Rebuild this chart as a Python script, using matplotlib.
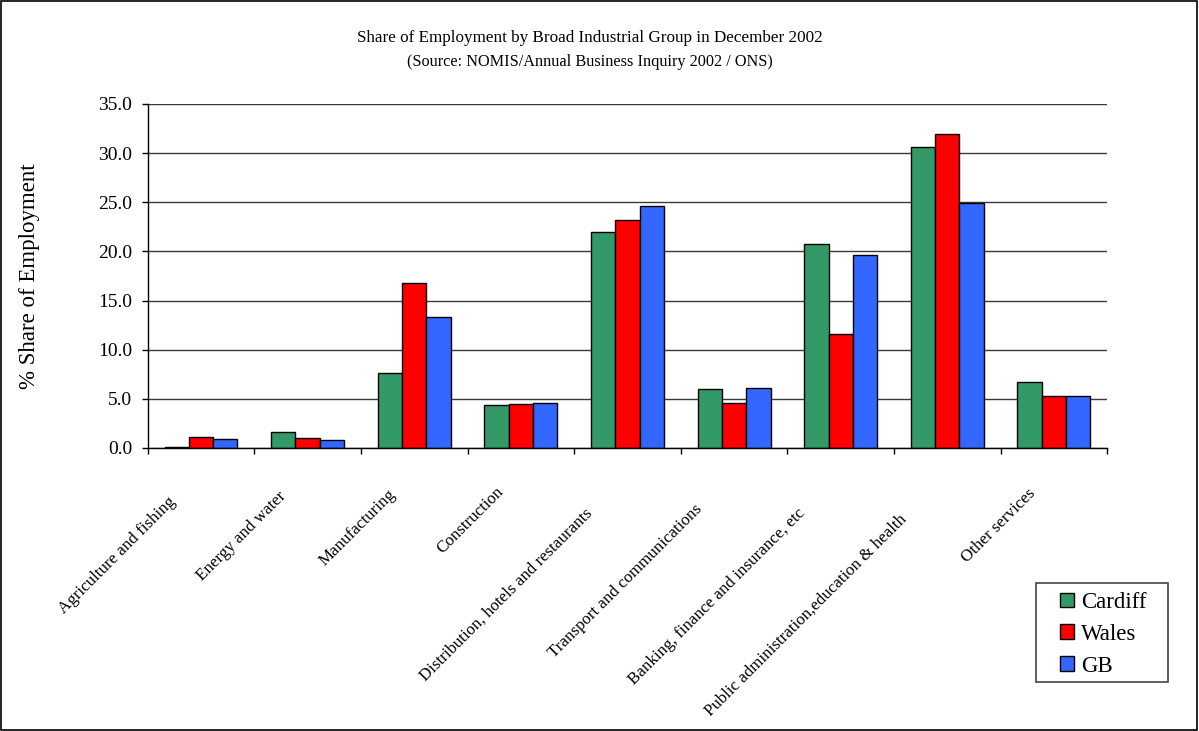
import numpy as np
import matplotlib.pyplot as plt
from matplotlib.patches import Rectangle
from matplotlib.transforms import ScaledTranslation
from matplotlib.textpath import TextPath
from matplotlib.font_manager import FontProperties

plt.rcParams['font.family'] = ['Liberation Serif', 'DejaVu Serif']

categories = ["Agriculture and fishing", "Energy and water", "Manufacturing",
              "Construction", "Distribution, hotels and restaurants",
              "Transport and communications", "Banking, finance and insurance, etc",
              "Public administration,education & health", "Other services"]
cardiff = [0.14, 1.62, 7.6, 4.36, 22.0, 6.03, 20.8, 30.6, 6.68]
wales = [1.08, 1.01, 16.8, 4.43, 23.2, 4.58, 11.56, 31.9, 5.25]
gb = [0.95, 0.78, 13.37, 4.53, 24.6, 6.1, 19.6, 24.9, 5.25]
series_names = ["Cardiff", "Wales", "GB"]
colors = ["#339966", "#FF0000", "#3366FF"]

W, H, DPI = 1199, 731, 100
fig = plt.figure(figsize=(W / DPI, H / DPI), dpi=DPI)
ax = fig.add_axes([147.7 / W, 1 - 448 / H, 959.5 / W, 344 / H])

x = np.arange(len(categories))
w = 0.228
for i, (vals, name, c) in enumerate(zip([cardiff, wales, gb], series_names, colors)):
    ax.bar(x + (i - 1) * w, vals, w, color=c, edgecolor="black", linewidth=1,
           label=name, zorder=3)

ax.set_xlim(-0.5, len(categories) - 0.5)
ax.set_ylim(0, 35)
ax.set_yticks(np.arange(0, 36, 5))
ax.set_yticklabels([f"{v:.1f}" for v in np.arange(0, 36, 5)], fontsize=14)
ax.yaxis.grid(True, color="#3a3a3a", linewidth=1, zorder=0)
ax.set_axisbelow(True)

# ticks between categories, labels centred on categories
lab_fs = 12.2
ax.set_xticks(np.arange(-0.5, len(categories), 1))
ax.set_xticklabels([])
ax.set_xticks(x, minor=True)
ax.set_xticklabels(categories, minor=True, rotation=45, ha="right", va="top",
                   rotation_mode="anchor", fontsize=lab_fs)
ax.tick_params(axis="x", which="minor", length=0, pad=0)
ax.tick_params(axis="x", which="major", length=4, width=1, color="black")
ax.tick_params(axis="y", length=4, width=1, color="black", pad=7)
# longer labels sit further down-left, as in the original
fp = FontProperties(family="Liberation Serif")
for lab in ax.get_xticklabels(minor=True):
    L = TextPath((0, 0), lab.get_text(), size=lab_fs, prop=fp).get_extents().width * DPI / 72
    dx = -15 - 0.12 * L
    dy = -(24 + 0.14 * L)
    lab.set_transform(lab.get_transform() + ScaledTranslation(dx / DPI, dy / DPI, fig.dpi_scale_trans))

for s in ["top", "right"]:
    ax.spines[s].set_visible(False)
for s in ["left", "bottom"]:
    ax.spines[s].set_linewidth(1)
    ax.spines[s].set_zorder(4)

ax.set_ylabel("% Share of Employment", fontsize=16.5)
ax.yaxis.set_label_coords(-0.112, 0.5)

fig.text(0.492, 0.948, "Share of Employment by Broad Industrial Group in December 2002",
         ha="center", va="center", fontsize=12.3)
fig.text(0.492, 0.915, "(Source: NOMIS/Annual Business Inquiry 2002 / ONS)",
         ha="center", va="center", fontsize=11.7)

# legend with a wider frame drawn by hand
padx, pad_top, pad_bot = 24, 9, 5
box_left, box_top = 1036, 583
leg = ax.legend(loc="upper left",
                bbox_to_anchor=((box_left + padx) / W, 1 - (box_top + pad_top) / H),
                bbox_transform=fig.transFigure, fontsize=16.5, frameon=False,
                handlelength=0.62, handleheight=0.62, handletextpad=0.3,
                labelspacing=0.47, borderpad=0, borderaxespad=0)
fig.canvas.draw()
bb = leg.get_window_extent()
fig.add_artist(Rectangle(((bb.x0 - padx) / W, (bb.y0 - pad_bot) / H),
                         (bb.width + 2 * padx - 3) / W, (bb.height + pad_top + pad_bot) / H,
                         transform=fig.transFigure, fill=False,
                         edgecolor="#444444", linewidth=1.2))

fig.patches.append(Rectangle((0.001, 0.001), 0.997, 0.997, transform=fig.transFigure,
                             fill=False, edgecolor="black", linewidth=1.2))

fig.savefig("out.png", dpi=DPI)
